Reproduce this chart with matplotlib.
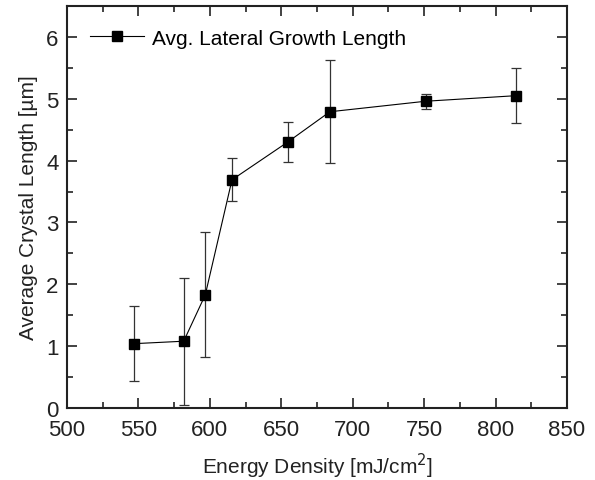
import numpy as np
import matplotlib.pyplot as plt
from matplotlib.ticker import MultipleLocator
from matplotlib.lines import Line2D

plt.rcParams['font.family'] = ['Liberation Sans', 'DejaVu Sans']

# data
energy = np.array([546.7, 581.7, 596.8, 615.5, 654.5, 684.0, 751.0, 814.3])
length = np.array([1.04, 1.08, 1.83, 3.69, 4.30, 4.79, 4.96, 5.05])
err = np.array([0.61, 1.03, 1.01, 0.35, 0.32, 0.83, 0.12, 0.44])

fig = plt.figure(figsize=(5.95, 4.81), dpi=100)
ax = fig.add_axes([67/595, 1 - 409/481, 500/595, 402/481])

ax.errorbar(energy, length, yerr=err, fmt='-s', color='black', ecolor='#333333',
            elinewidth=0.9, capsize=3.5, capthick=0.9, lw=0.8, ms=7)

ax.set_xlim(500, 850)
ax.set_ylim(0, 6.5)
ax.xaxis.set_major_locator(MultipleLocator(50))
ax.xaxis.set_minor_locator(MultipleLocator(25))
ax.yaxis.set_major_locator(MultipleLocator(1))
ax.yaxis.set_minor_locator(MultipleLocator(0.5))
ax.tick_params(which='both', direction='in', top=True, right=True, width=1.2,
               labelsize=16, colors='#222222')
ax.tick_params(axis='x', pad=8)
ax.tick_params(axis='y', pad=6)
ax.tick_params(which='major', length=7)
ax.tick_params(which='minor', length=4)
for s in ax.spines.values():
    s.set_linewidth(1.5)
    s.set_color('#222222')

ax.set_xlabel('Energy Density [mJ/cm$^2$]', fontsize=15, color='#222222', labelpad=8)
ax.set_ylabel('Average Crystal Length [µm]', fontsize=15, color='#222222', labelpad=6)

handle = Line2D([], [], color='black', lw=0.8, marker='s', ms=7)
ax.legend([handle], ['Avg. Lateral Growth Length'], loc='upper left', frameon=False,
          fontsize=15, handlelength=2.6, handletextpad=0.4,
          bbox_to_anchor=(0.008, 0.99))

plt.savefig('out.png', dpi=100)
